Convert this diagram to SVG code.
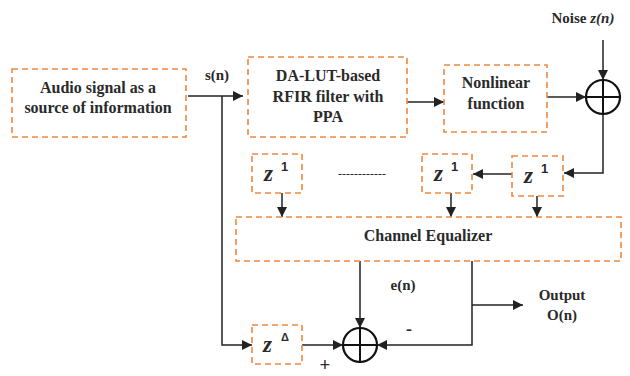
<svg xmlns="http://www.w3.org/2000/svg" width="630" height="376" viewBox="0 0 630 376">
<defs>
<marker id="arr" viewBox="0 0 10 10" refX="10" refY="5" markerWidth="10" markerHeight="10" markerUnits="userSpaceOnUse" orient="auto">
<path d="M0,0 L10,5 L0,10 Z" fill="#222"/>
</marker>
</defs>
<style>
.box{fill:#fff;stroke:#F0883E;stroke-width:1.6;stroke-dasharray:6 4}
.t{font-family:"Liberation Serif","Times New Roman","DejaVu Serif",serif;font-weight:bold;font-size:16px;fill:#2a2a2a;text-anchor:middle}
.s{font-size:15px}
.z{font-family:"Liberation Serif","Times New Roman","DejaVu Serif",serif;font-weight:bold;font-style:italic;font-size:23px;fill:#2a2a2a}
.sup{font-family:"Liberation Sans",Arial,sans-serif;font-weight:bold;font-size:13px;fill:#2a2a2a}
.w{fill:none;stroke:#222;stroke-width:1.5}
.sum{fill:#fff;stroke:#111;stroke-width:2.2}
.sl{fill:none;stroke:#111;stroke-width:2}
</style>
<rect width="630" height="376" fill="#fff"/>

<g id="connectors">
<path class="w" d="M188,96 H243" marker-end="url(#arr)"/>
<path class="w" d="M222,96 V345 H252" marker-end="url(#arr)"/>
<path class="w" d="M407,102 H444" marker-end="url(#arr)"/>
<path class="w" d="M547,97 H586" marker-end="url(#arr)"/>
<path class="w" d="M603,40 V80" marker-end="url(#arr)"/>
<path class="w" d="M603,114 V173 H564" marker-end="url(#arr)"/>
<path class="w" d="M512,174 H473" marker-end="url(#arr)"/>
<path class="w" d="M282,193 V217" marker-end="url(#arr)"/>
<path class="w" d="M451,193 V217" marker-end="url(#arr)"/>
<path class="w" d="M537,196 V217" marker-end="url(#arr)"/>
<path class="w" d="M360,261 V328" marker-end="url(#arr)"/>
<path class="w" d="M472,261 V345 H377" marker-end="url(#arr)"/>
<path class="w" d="M472,305 H523" marker-end="url(#arr)"/>
<path class="w" d="M302,345 H343" marker-end="url(#arr)"/>
</g>

<g id="audio">
<rect class="box" x="12" y="69" width="174" height="68"/>
<text class="t" x="98" y="93">Audio signal as a</text>
<text class="t" x="98" y="113">source of information</text>
</g>
<text class="t s" x="217" y="80">s(n)</text>

<g id="filter">
<rect class="box" x="248" y="57" width="159" height="80"/>
<text class="t" x="328" y="81">DA-LUT-based</text>
<text class="t" x="328" y="102">RFIR filter with</text>
<text class="t" x="328" y="122">PPA</text>
</g>

<g id="nonlinear">
<rect class="box" x="444" y="65" width="103" height="67"/>
<text class="t" x="496" y="88">Nonlinear</text>
<text class="t" x="496" y="109">function</text>
</g>

<g id="sum1">
<circle class="sum" cx="603" cy="97" r="17"/>
<path class="sl" d="M586,97 H620 M603,80 V114"/>
</g>
<text class="t s" x="583" y="23">Noise <tspan font-style="italic">z(n)</tspan></text>

<g id="delay3">
<rect class="box" x="512" y="156" width="51" height="40"/>
<text class="z" x="524" y="183">z</text><text class="sup" x="541" y="173">1</text>
</g>
<g id="delay2">
<rect class="box" x="422" y="154" width="50" height="39"/>
<text class="z" x="434" y="181">z</text><text class="sup" x="451" y="171">1</text>
</g>
<g id="delay1">
<rect class="box" x="252" y="154" width="50" height="39"/>
<text class="z" x="264" y="181">z</text><text class="sup" x="281" y="171">1</text>
</g>
<text class="t" x="362" y="178" style="font-size:12px;font-weight:normal">------------</text>

<g id="equalizer">
<rect class="box" x="236" y="217" width="385" height="44"/>
<text class="t" x="428" y="241">Channel Equalizer</text>
</g>

<g id="delayD">
<rect class="box" x="252" y="325" width="50" height="39"/>
<text class="z" x="263" y="352">z</text><text class="sup" x="281" y="341" style="font-size:11px">Δ</text>
</g>

<g id="sum2">
<circle class="sum" cx="360" cy="345" r="17"/>
<path class="sl" d="M343,345 H377 M360,328 V362"/>
</g>

<text class="t s" x="403" y="290">e(n)</text>
<text class="t" x="409" y="335" style="font-size:18px">-</text>
<text class="t" x="325" y="371" style="font-size:19px">+</text>
<text class="t s" x="562" y="300">Output</text>
<text class="t s" x="562" y="320">O(n)</text>
</svg>
